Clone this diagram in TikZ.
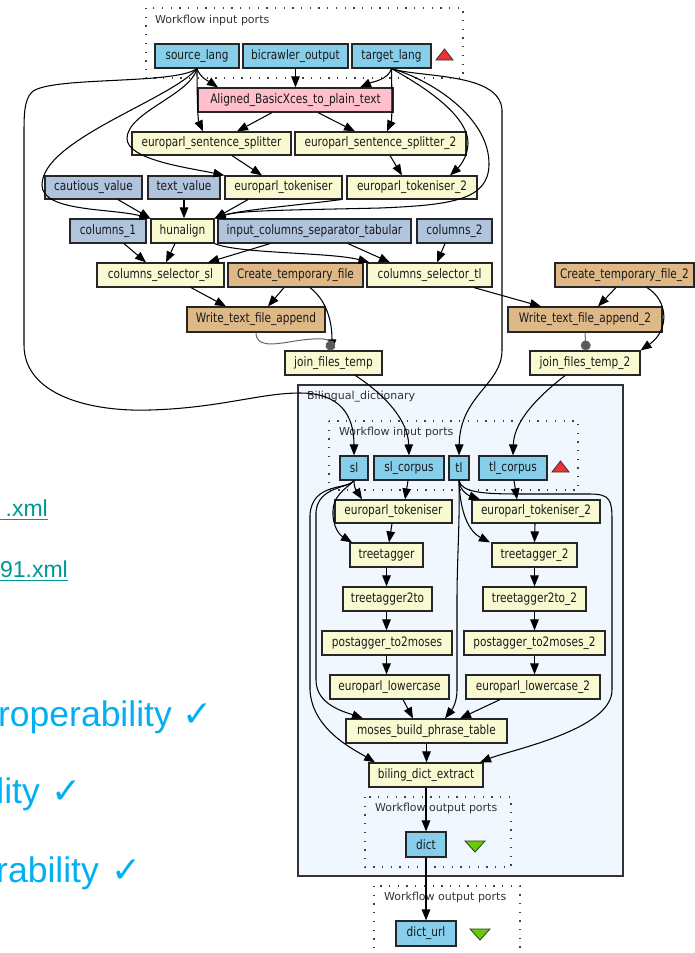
\documentclass[tikz,border=0pt]{standalone}
\usepackage{fontspec}
\usetikzlibrary{arrows.meta}
\newfontfamily\nodefont[FakeStretch=0.81]{DejaVu Sans}
\newfontfamily\labelfont{DejaVu Sans}
\newfontfamily\slidefont{Liberation Sans}
\newfontfamily\symfont{DejaVu Sans}

\definecolor{portblue}{RGB}{135,206,235}
\definecolor{procyellow}{RGB}{250,250,210}
\definecolor{conststeel}{RGB}{176,196,222}
\definecolor{localtan}{RGB}{222,184,135}
\definecolor{xmlpink}{RGB}{255,192,203}
\definecolor{nestfill}{RGB}{240,247,255}
\definecolor{linkteal}{RGB}{0,150,150}
\definecolor{slideblue}{RGB}{0,176,240}
\definecolor{inred}{RGB}{240,50,50}
\definecolor{outgreen}{RGB}{102,204,0}

\tikzset{
  wfbox/.style={draw=black!85, line width=1.2pt, inner sep=0pt,
    font={\nodefont\fontsize{13pt}{15pt}\selectfont}, text=black!90},
  portbox/.style={wfbox, fill=portblue},
  procbox/.style={wfbox, fill=procyellow},
  constbox/.style={wfbox, fill=conststeel},
  localbox/.style={wfbox, fill=localtan},
  xmlbox/.style={wfbox, fill=xmlpink},
  portgroup/.style={draw=black!75, line width=1.3pt, dash pattern=on 1.3pt off 7.4pt},
  grouplabel/.style={font={\labelfont\fontsize{11pt}{13pt}\selectfont}, text=black!80,
    anchor=west, inner sep=0pt},
  datalink/.style={draw=black, line width=1.05pt, -{Triangle[length=11pt,width=8.5pt]}},
  ctrllink/.style={draw=black!60, line width=1pt, -{Circle[length=10pt,fill=black!65]}},
  slidetext/.style={font={\slidefont\fontsize{35.5pt}{40pt}\selectfont}, text=slideblue,
    inner sep=0pt},
  checkmark/.style={font={\symfont\fontsize{36pt}{40pt}\selectfont}, text=slideblue,
    inner sep=0pt, anchor=base west},
  filetext/.style={font={\slidefont\fontsize{23pt}{28pt}\selectfont}, text=linkteal,
    inner sep=0pt, anchor=base east},
}

% box given by its corners (x1,y1) (x2,y2)
\newcommand\wfnode[7]{%
  \node[#6, minimum width={(#4-#2)*1pt}, minimum height={(#5-#3)*1pt}]
    (#1) at ({(#2+#4)/2},{(#3+#5)/2}) {#7};}

\begin{document}
\begin{tikzpicture}[x=1pt, y=-1pt]
\useasboundingbox (0,0) rectangle (695,953);
\begin{scope}
\clip (0,0) rectangle (695,953);

% ---------- slide text on the left ----------
\node[filetext] (xmla) at (48,516) {.xml};
\draw[linkteal, line width=1.4pt] (0,519.5) -- (xmla.base east |- 0,519.5);
\node[filetext] (xmlb) at (68,577) {91.xml};
\draw[linkteal, line width=1.4pt] (0,580.5) -- (xmlb.base east |- 0,580.5);

\node[slidetext, anchor=base east] (intero) at (172,726) {roperability};
\node[checkmark] (chk1) at (182,726) {✓};
\node[slidetext, anchor=base east] (reusab) at (40,803) {lity};
\node[checkmark] (chk2) at (51,803) {✓};
\node[slidetext, anchor=base east] (reprod) at (99,882) {rability};
\node[checkmark] (chk3) at (111,882) {✓};

% ---------- nested workflow frame ----------
\node[draw=black!80, line width=1.3pt, fill=nestfill, minimum width=325pt,
  minimum height=491pt, inner sep=0pt] (bd) at (460.5,630.5) {};
\node[grouplabel] (bdlabel) at (307,397) {Bilingual\_dictionary};

% ---------- port groups ----------
\draw[portgroup] (146,8) rectangle (463,78);
\node[grouplabel] (inlabel) at (155,20) {Workflow input ports};
\draw[portgroup] (329,421) rectangle (578,490);
\node[grouplabel] (ninlabel) at (339,432) {Workflow input ports};
\draw[portgroup] (365,797) rectangle (511,867);
\node[grouplabel] (noutlabel) at (375,808) {Workflow output ports};
\draw[portgroup] (374,886) rectangle (520,970);
\node[grouplabel] (outlabel) at (384,897) {Workflow output ports};

% input / output markers
\filldraw[fill=inred, draw=black!80, line width=0.8pt] (436,60) -- (453,60) -- (444.5,49) -- cycle;
\filldraw[fill=inred, draw=black!80, line width=0.8pt] (552,472) -- (569,472) -- (560.5,461) -- cycle;
\filldraw[fill=outgreen, draw=black!80, line width=0.8pt] (465,841) -- (485,841) -- (475,852) -- cycle;
\filldraw[fill=outgreen, draw=black!80, line width=0.8pt] (470,929) -- (490,929) -- (480,940) -- cycle;

% ---------- outer workflow ----------
\wfnode{src}{155}{44}{239}{68}{portbox}{source\_lang}
\wfnode{bic}{243}{44}{348}{68}{portbox}{bicrawler\_output}
\wfnode{tgt}{352}{44}{431}{68}{portbox}{target\_lang}
\wfnode{abx}{198}{88}{393}{112}{xmlbox}{Aligned\_BasicXces\_to\_plain\_text}
\wfnode{ess}{132}{132}{291}{155}{procbox}{europarl\_sentence\_splitter}
\wfnode{ess2}{295}{132}{466}{155}{procbox}{europarl\_sentence\_splitter\_2}
\wfnode{cau}{45}{176}{142}{199}{constbox}{cautious\_value}
\wfnode{txt}{148}{176}{220}{199}{constbox}{text\_value}
\wfnode{tok}{225}{176}{342}{199}{procbox}{europarl\_tokeniser}
\wfnode{tok2}{347}{176}{477}{199}{procbox}{europarl\_tokeniser\_2}
\wfnode{col1}{70}{219}{146}{243}{constbox}{columns\_1}
\wfnode{hun}{151}{219}{214}{243}{procbox}{hunalign}
\wfnode{ics}{218}{219}{411}{243}{constbox}{input\_columns\_separator\_tabular}
\wfnode{col2}{417}{219}{492}{243}{constbox}{columns\_2}
\wfnode{css}{97}{263}{224}{287}{procbox}{columns\_selector\_sl}
\wfnode{ctf}{228}{263}{363}{287}{localbox}{Create\_temporary\_file}
\wfnode{cst}{367}{263}{492}{287}{procbox}{columns\_selector\_tl}
\wfnode{ctf2}{555}{263}{694}{287}{localbox}{Create\_temporary\_file\_2}
\wfnode{wta}{187}{307}{325}{332}{localbox}{Write\_text\_file\_append}
\wfnode{wta2}{508}{307}{662}{332}{localbox}{Write\_text\_file\_append\_2}
\wfnode{jft}{285}{351}{382}{375}{procbox}{join\_files\_temp}
\wfnode{jft2}{530}{351}{640}{375}{procbox}{join\_files\_temp\_2}

% ---------- nested workflow ----------
\wfnode{sl}{340}{456}{368}{480}{portbox}{sl}
\wfnode{slc}{374}{456}{444}{480}{portbox}{sl\_corpus}
\wfnode{tl}{449}{456}{469}{480}{portbox}{tl}
\wfnode{tlc}{479}{456}{547}{480}{portbox}{tl\_corpus}
\wfnode{btok}{335}{500}{452}{523}{procbox}{europarl\_tokeniser}
\wfnode{btok2}{472}{500}{600}{523}{procbox}{europarl\_tokeniser\_2}
\wfnode{tt}{350}{543}{423}{567}{procbox}{treetagger}
\wfnode{tt2}{492}{543}{577}{567}{procbox}{treetagger\_2}
\wfnode{ttm}{343}{587}{432}{611}{procbox}{treetagger2to}
\wfnode{ttm2}{483}{587}{586}{611}{procbox}{treetagger2to\_2}
\wfnode{pm}{322}{631}{452}{655}{procbox}{postagger\_to2moses}
\wfnode{pm2}{464}{631}{605}{655}{procbox}{postagger\_to2moses\_2}
\wfnode{lc}{330}{675}{449}{699}{procbox}{europarl\_lowercase}
\wfnode{lc2}{466}{675}{600}{699}{procbox}{europarl\_lowercase\_2}
\wfnode{mb}{346}{719}{507}{743}{procbox}{moses\_build\_phrase\_table}
\wfnode{bde}{369}{763}{483}{787}{procbox}{biling\_dict\_extract}
\wfnode{dict}{406}{832}{446}{857}{portbox}{dict}
\wfnode{durl}{396}{921}{456}{946}{portbox}{dict\_url}

% ---------- data links, outer workflow ----------
\draw[datalink] (src.south) .. controls (200,78) and (210,82) .. ([xshift=-77.5pt]abx.north);
\draw[datalink] (bic.south) -- (abx.north);
\draw[datalink] (tgt.south) .. controls (388,80) and (372,82) .. ([xshift=64.5pt]abx.north);
\draw[datalink] (src.south) .. controls (197,100) and (198,120) .. ([xshift=-8.5pt]ess.north);
\draw[datalink] ([xshift=-23.5pt]abx.south) -- ([xshift=25.5pt]ess.north);
\draw[datalink] ([xshift=22.5pt]abx.south) -- ([xshift=-25.5pt]ess2.north);
\draw[datalink] (tgt.south) .. controls (392,100) and (392,120) .. ([xshift=6.5pt]ess2.north);
\draw[datalink] ([xshift=20.5pt]ess.south) -- ([xshift=-21.5pt]tok.north);
\draw[datalink] (src.south) .. controls (190,95) and (128,112) .. (127,138)
  .. controls (126,160) and (190,168) .. (tok.north west);
\draw[datalink] ([xshift=9.5pt]ess2.south) -- ([xshift=-10pt]tok2.north);
\draw[datalink] (tgt.south) .. controls (412,80) and (468,112) .. (468,143)
  .. controls (468,158) and (458,168) .. ([xshift=38pt]tok2.north);
% target_lang to hunalign, round the right side
\draw[datalink] (tgt.south) .. controls (432,80) and (490,118) .. (489,165)
  .. controls (488,200) and (452,205) .. (380,208)
  .. controls (300,210) and (240,210) .. (hun.north east);
% target_lang to the nested tl port
\draw[datalink] (tgt.south) .. controls (420,78) and (500,72) .. (502,110)
  -- (502,350) .. controls (502,385) and (460,395) .. (tl.north);
% source_lang to hunalign, round the left side
\draw[datalink] (src.south) .. controls (170,100) and (42,140) .. (42,185)
  .. controls (42,212) and (110,208) .. (hun.north west);
% source_lang to the nested sl port
\draw[datalink] (src.south) .. controls (175,85) and (50,76) .. (32,92)
  .. controls (24,100) and (24,115) .. (24,135) -- (24,345)
  .. controls (24,395) and (90,412) .. (150,410)
  .. controls (220,408) and (260,393) .. (300,393)
  .. controls (340,393) and (354,415) .. (sl.north);
\draw[datalink] ([xshift=24.5pt]cau.south) -- (hun.north west);
\draw[datalink] (txt.south) -- (txt.south |- hun.north);
\draw[datalink] ([xshift=-35.5pt]tok.south) -- (hun.north east);
\draw[datalink] ([xshift=-71pt]tok2.south) .. controls (300,205) and (240,210) .. (hun.north east);

\draw[datalink] ([xshift=16pt]col1.south) -- ([xshift=-14.5pt]css.north);
\draw[datalink] ([xshift=-7.5pt]hun.south) -- ([xshift=5.5pt]css.north);
\draw[datalink] ([xshift=-44.5pt]ics.south) -- ([xshift=47.5pt]css.north);
\draw[datalink] (hun.south east) .. controls (240,254) and (330,252) .. ([xshift=3pt]cst.north west);
\draw[datalink] ([xshift=33.5pt]ics.south) -- ([xshift=-39.5pt]cst.north);
\draw[datalink] ([xshift=-9.5pt]col2.south) -- ([xshift=7.5pt]cst.north);
\draw[datalink] ([xshift=30.5pt]css.south) -- ([xshift=-30pt]wta.north);
\draw[datalink] ([xshift=-11.5pt]ctf.south) -- ([xshift=12pt]wta.north);
\draw[datalink] ([xshift=14.5pt]ctf.south) .. controls (326,300) and (332,320) .. ([xshift=-1.5pt]jft.north);
\draw[datalink] ([xshift=44.5pt]cst.south) -- ([xshift=-44pt]wta2.north);
\draw[datalink] ([xshift=-8.5pt]ctf2.south) -- ([xshift=13pt]wta2.north);
\draw[datalink] ([xshift=22.5pt]ctf2.south) .. controls (668,300) and (670,330) .. (jft2.north east);

% control links (run after)
\draw[ctrllink] (wta.south) .. controls (256,347) and (272,345) .. (295,341)
  .. controls (315,338) and (328,338) .. ([xshift=-1.5pt]jft.north);
\draw[ctrllink] (wta2.south) -- ([xshift=1pt]jft2.north);

\draw[datalink] ([xshift=22pt]jft.south) .. controls (385,395) and (408,420) .. (slc.north);
\draw[datalink] ([xshift=-20pt]jft2.south) .. controls (540,395) and (514,420) .. (tlc.north);

% ---------- data links, nested workflow ----------
\draw[datalink] (sl.south) .. controls (354,490) and (358,493) .. ([xshift=-31.5pt]btok.north);
\draw[datalink] ([xshift=-1pt]slc.south) -- ([xshift=11.5pt]btok.north);
\draw[datalink] (sl.south) .. controls (345,490) and (332,495) .. (333,515)
  .. controls (334,532) and (343,537) .. ([xshift=-34.5pt]tt.north);
\draw[datalink] (sl.south) .. controls (350,488) and (318,486) .. (316,512) -- (316,680)
  .. controls (316,705) and (345,712) .. ([xshift=-63.5pt]mb.north);
\draw[datalink] (sl.south) .. controls (348,490) and (312,482) .. (310,515) -- (310,690)
  .. controls (312,730) and (355,750) .. ([xshift=-51pt]bde.north);
\draw[datalink] (tl.south) .. controls (460,492) and (470,496) .. ([xshift=-56pt]btok2.north);
\draw[datalink] ([xshift=1pt]tlc.south) -- ([xshift=-19pt]btok2.north);
\draw[datalink] (tl.south) .. controls (460,515) and (470,532) .. ([xshift=-44.5pt]tt2.north);
\draw[datalink] (tl.south) .. controls (460,520) and (457,560) .. (457,600) -- (457,690)
  .. controls (457,705) and (450,712) .. ([xshift=18.5pt]mb.north);
\draw[datalink] (tl.south) .. controls (462,492) and (480,494) .. (520,494) -- (590,494)
  .. controls (610,494) and (612,500) .. (612,520) -- (612,690)
  .. controls (612,730) and (510,750) .. ([xshift=54pt]bde.north);
\draw[datalink] ([xshift=-1.5pt]btok.south) -- ([xshift=2.5pt]tt.north);
\draw[datalink] ([xshift=-1pt]btok2.south) -- (tt2.north);
\draw[datalink] (tt.south) -- (tt.south |- ttm.north);
\draw[datalink] (ttm.south -| tt.south) -- (tt.south |- pm.north);
\draw[datalink] (pm.south -| tt.south) -- (tt.south |- lc.north);
\draw[datalink] (tt2.south) -- (tt2.south |- ttm2.north);
\draw[datalink] (ttm2.south -| tt2.south) -- (tt2.south |- pm2.north);
\draw[datalink] (pm2.south -| tt2.south) -- (tt2.south |- lc2.north);
\draw[datalink] ([xshift=13.5pt]lc.south) -- ([xshift=-13.5pt]mb.north);
\draw[datalink] ([xshift=-33pt]lc2.south) -- ([xshift=33.5pt]mb.north);
\draw[datalink] (mb.south) -- (mb.south |- bde.north);
\draw[datalink] (bde.south) -- (dict.north);
\draw[datalink] (dict.south) -- (durl.north);
\end{scope}
\end{tikzpicture}
\end{document}
